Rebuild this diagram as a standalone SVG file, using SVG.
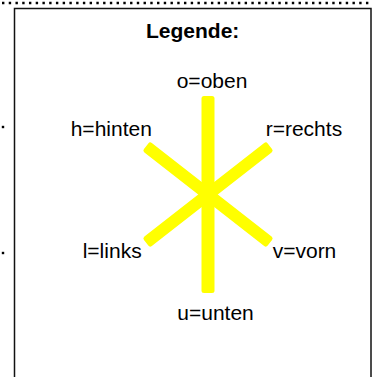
<svg xmlns="http://www.w3.org/2000/svg" width="377" height="377" viewBox="0 0 377 377">
<style>
.t{font-family:"Liberation Sans",Arial,sans-serif;font-size:21px;fill:#000}
.b{font-weight:bold}
.arm{fill:#ffff00}
</style>
<rect width="377" height="377" fill="#fff"/>
<line x1="2" y1="3" x2="369" y2="3" stroke="#000" stroke-width="2.4" stroke-dasharray="2.4 4.34"/>
<rect x="1.8" y="125.8" width="2.4" height="2.4" fill="#000"/>
<rect x="1.8" y="251.8" width="2.4" height="2.4" fill="#000"/>
<g id="legend">
<rect x="14.5" y="8.5" width="356.5" height="380" fill="#fff" stroke="#111" stroke-width="1.5"/>
<text class="t b" x="146" y="37.5">Legende:</text>
</g>
<g id="connectors">
<rect class="arm" x="201.5" y="96" width="13" height="197" rx="2.5"/>
<rect class="arm" x="129.5" y="188.5" width="157" height="12" rx="2.5" transform="rotate(38 208 194.5)"/>
<rect class="arm" x="129.5" y="188.5" width="157" height="12" rx="2.5" transform="rotate(-38 208 194.5)"/>
</g>
<g id="oben"><text class="t" x="176.7" y="88">o=oben</text></g>
<g id="hinten"><text class="t" x="70.7" y="136">h=hinten</text></g>
<g id="rechts"><text class="t" x="265.7" y="136">r=rechts</text></g>
<g id="links"><text class="t" x="82.7" y="258.3">l=links</text></g>
<g id="vorn"><text class="t" x="272.7" y="258.3">v=vorn</text></g>
<g id="unten"><text class="t" x="177.3" y="320">u=unten</text></g>
</svg>
